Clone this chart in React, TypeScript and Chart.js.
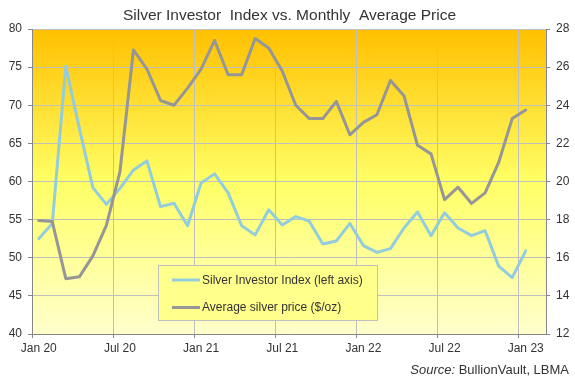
import React, { useEffect, useRef } from 'react';
import { Chart, registerables } from 'chart.js';

Chart.register(...registerables);

const months = [
  'Jan 20', 'Feb 20', 'Mar 20', 'Apr 20', 'May 20', 'Jun 20', 'Jul 20', 'Aug 20', 'Sep 20', 'Oct 20', 'Nov 20', 'Dec 20',
  'Jan 21', 'Feb 21', 'Mar 21', 'Apr 21', 'May 21', 'Jun 21', 'Jul 21', 'Aug 21', 'Sep 21', 'Oct 21', 'Nov 21', 'Dec 21',
  'Jan 22', 'Feb 22', 'Mar 22', 'Apr 22', 'May 22', 'Jun 22', 'Jul 22', 'Aug 22', 'Sep 22', 'Oct 22', 'Nov 22', 'Dec 22',
  'Jan 23', 'Feb 23',
];

const investorIndex = [
  52.5, 54.5, 75.1, 67.0, 59.2, 57.0, 59.1, 61.5, 62.7, 56.7, 57.15, 54.2,
  59.8, 61.0, 58.5, 54.2, 53.0, 56.3, 54.3, 55.4, 54.8, 51.8, 52.2, 54.5,
  51.6, 50.7, 51.2, 53.9, 56.0, 52.9, 55.9, 53.9, 52.9, 53.55, 48.9, 47.4,
  50.9,
];

const silverPrice = [
  17.95, 17.9, 14.9, 15.0, 16.1, 17.7, 20.5, 26.9, 25.9, 24.25, 24.0, 24.9,
  25.9, 27.4, 25.6, 25.6, 27.5, 27.0, 25.8, 24.0, 23.3, 23.3, 24.2, 22.45,
  23.1, 23.5, 25.3, 24.5, 21.9, 21.45, 19.05, 19.7, 18.85, 19.4, 21.0, 23.3,
  23.75,
];

const seriesLabels = ['Silver Investor Index (left axis)', 'Average silver price ($/oz)'];
const titleText = 'Silver Investor  Index vs. Monthly  Average Price';
const sourceItalic = 'Source:';
const sourceText = ' BullionVault, LBMA';

const FONT = '"Liberation Sans", Arial, sans-serif';
const TEXT = '#333333';
const GRID = '#BFBFBF';
const AXIS = '#868686';
const BLUE = '#93CDDD';
const GREY = '#969696';

const decorPlugin = {
  id: 'decor',
  beforeDraw(chart: any) {
    const { ctx, chartArea } = chart;
    const { left, top, right, bottom } = chartArea;
    ctx.save();
    ctx.fillStyle = '#ffffff';
    ctx.fillRect(0, 0, chart.width, chart.height);
    const g = ctx.createLinearGradient(0, top, 0, bottom);
    g.addColorStop(0, '#FFC000');
    g.addColorStop(0.5, '#FFFF66');
    g.addColorStop(1, '#FFFFCC');
    ctx.fillStyle = g;
    ctx.fillRect(left, top, right - left, bottom - top);
    ctx.restore();
  },
  afterDraw(chart: any) {
    const { ctx, chartArea } = chart;
    ctx.save();
    // title
    ctx.fillStyle = TEXT;
    ctx.font = `15.5px ${FONT}`;
    ctx.textAlign = 'center';
    ctx.textBaseline = 'alphabetic';
    ctx.fillText(titleText, (chartArea.left + chartArea.right) / 2 + 0.5, 20);

    // legend
    const lx = 158.5, ly = 265.5, lw = 219, lh = 55;
    ctx.fillStyle = '#FFFF8C';
    ctx.fillRect(lx, ly, lw, lh);
    ctx.strokeStyle = GRID;
    ctx.lineWidth = 1;
    ctx.strokeRect(lx, ly, lw, lh);
    const ds = chart.data.datasets;
    const rows = [280, 307.5];
    ctx.font = `12px ${FONT}`;
    ctx.textAlign = 'left';
    ctx.textBaseline = 'middle';
    ds.forEach((d: any, i: number) => {
      ctx.strokeStyle = d.borderColor;
      ctx.lineWidth = 3;
      ctx.beginPath();
      ctx.moveTo(172, rows[i]);
      ctx.lineTo(200, rows[i]);
      ctx.stroke();
      ctx.fillStyle = TEXT;
      ctx.fillText(d.label, 202, rows[i] + 0.5);
    });

    // source
    ctx.textBaseline = 'alphabetic';
    ctx.textAlign = 'right';
    ctx.font = `13px ${FONT}`;
    const xr = 569;
    const w = ctx.measureText(sourceText).width;
    ctx.fillText(sourceText, xr, 374);
    ctx.font = `italic 13px ${FONT}`;
    ctx.fillText(sourceItalic, xr - w, 374);
    ctx.restore();
  },
};

export default function App() {
  const ref = useRef<HTMLCanvasElement | null>(null);
  useEffect(() => {
    document.body.style.margin = '0';
    const canvas = ref.current;
    if (!canvas) return;
    const chart = new Chart(canvas, {
      type: 'line',
      data: {
        labels: months,
        datasets: [
          {
            label: seriesLabels[0],
            data: investorIndex,
            borderColor: BLUE,
            backgroundColor: BLUE,
            borderWidth: 3,
            pointRadius: 0,
            tension: 0,
            yAxisID: 'y',
            order: 1,
            borderJoinStyle: 'round',
            borderCapStyle: 'round',
          },
          {
            label: seriesLabels[1],
            data: silverPrice,
            borderColor: GREY,
            backgroundColor: GREY,
            borderWidth: 3,
            pointRadius: 0,
            tension: 0,
            yAxisID: 'y1',
            order: 0,
            borderJoinStyle: 'round',
            borderCapStyle: 'round',
          },
        ],
      },
      options: {
        responsive: false,
        animation: false,
        layout: { padding: { top: 29, left: 0, right: 0, bottom: 0 } },
        plugins: {
          legend: { display: false },
          tooltip: { enabled: false },
          title: { display: false },
        },
        scales: {
          x: {
            type: 'category',
            offset: true,
            grid: {
              offset: true,
              color: (c: any) => (c.index % 6 === 0 && c.index > 0 ? GRID : 'rgba(0,0,0,0)'),
              tickColor: (c: any) => (c.index % 6 === 0 ? AXIS : 'rgba(0,0,0,0)'),
              tickLength: 4,
            },
            border: { display: true, color: AXIS, width: 1 },
            ticks: {
              autoSkip: false,
              maxRotation: 0,
              minRotation: 0,
              padding: 3,
              color: TEXT,
              font: { family: FONT, size: 12 },
              callback: (_v: any, i: number) => (i % 6 === 0 ? months[i] : ''),
            },
            afterFit: (s: any) => { s.height = 47; },
          },
          y: {
            position: 'left',
            min: 40,
            max: 80,
            ticks: { stepSize: 5, padding: 6, color: TEXT, font: { family: FONT, size: 12 } },
            grid: { color: GRID, tickColor: AXIS, tickLength: 4 },
            border: { display: true, color: AXIS, width: 1 },
            afterFit: (s: any) => { s.width = 32; },
          },
          y1: {
            position: 'right',
            min: 12,
            max: 28,
            ticks: { stepSize: 2, padding: 6, color: TEXT, font: { family: FONT, size: 12 } },
            grid: { drawOnChartArea: false, tickColor: AXIS, tickLength: 4 },
            border: { display: true, color: AXIS, width: 1 },
            afterFit: (s: any) => { s.width = 29; },
          },
        },
      },
      plugins: [decorPlugin],
    } as any);
    return () => chart.destroy();
  }, []);
  return <canvas ref={ref} width={575} height={381} style={{ display: 'block' }} />;
}
